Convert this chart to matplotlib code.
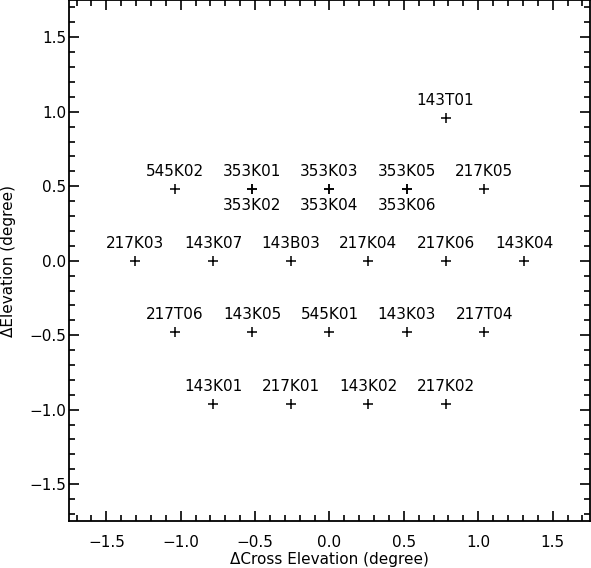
import matplotlib
matplotlib.use('Agg')
import matplotlib.pyplot as plt
from matplotlib.ticker import MultipleLocator

# detector positions (degree), label above the cross
names_up = ['143T01',
            '545K02', '353K01', '353K03', '353K05', '217K05',
            '217K03', '143K07', '143B03', '217K04', '217K06', '143K04',
            '217T06', '143K05', '545K01', '143K03', '217T04',
            '143K01', '217K01', '143K02', '217K02']
x_up = [0.78,
        -1.04, -0.52, 0.0, 0.52, 1.04,
        -1.31, -0.78, -0.26, 0.26, 0.78, 1.31,
        -1.04, -0.52, 0.0, 0.52, 1.04,
        -0.78, -0.26, 0.26, 0.78]
y_up = [0.96,
        0.48, 0.48, 0.48, 0.48, 0.48,
        0.0, 0.0, 0.0, 0.0, 0.0, 0.0,
        -0.48, -0.48, -0.48, -0.48, -0.48,
        -0.96, -0.96, -0.96, -0.96]

# second detector of the 353 pairs, label below the cross
names_down = ['353K02', '353K04', '353K06']
x_down = [-0.52, 0.0, 0.52]
y_down = [0.48, 0.48, 0.48]

plt.rcParams['font.family'] = 'DejaVu Sans'
plt.rcParams['font.size'] = 11

fig = plt.figure(figsize=(5.91, 5.68), dpi=100)
ax = fig.add_axes([0.117, 0.082, 0.881, 0.918])

ax.plot(x_up, y_up, '+', color='black', markersize=7, markeredgewidth=1.1)
ax.plot(x_down, y_down, '+', color='black', markersize=7, markeredgewidth=1.1)

for n, x, y in zip(names_up, x_up, y_up):
    ax.annotate(n, (x, y), xytext=(0, 7), textcoords='offset points',
                ha='center', va='bottom', fontsize=11)
for n, x, y in zip(names_down, x_down, y_down):
    ax.annotate(n, (x, y), xytext=(0, -6), textcoords='offset points',
                ha='center', va='top', fontsize=11)

ax.set_xlim(-1.75, 1.75)
ax.set_ylim(-1.75, 1.75)
ax.xaxis.set_major_locator(MultipleLocator(0.5))
ax.yaxis.set_major_locator(MultipleLocator(0.5))
ax.xaxis.set_minor_locator(MultipleLocator(0.1))
ax.yaxis.set_minor_locator(MultipleLocator(0.1))
ax.tick_params(which='both', direction='in', top=True, right=True, width=1.2)
ax.tick_params(which='major', length=7.5)
ax.tick_params(which='minor', length=4)
ax.tick_params(axis='x', which='major', pad=10)
ax.tick_params(axis='y', which='major', pad=2)
for s in ax.spines.values():
    s.set_linewidth(1.3)

ax.set_xlabel('\u0394Cross Elevation (degree)', labelpad=1)
ax.set_ylabel('\u0394Elevation (degree)', labelpad=10)

fig.savefig('out.png', dpi=100)
